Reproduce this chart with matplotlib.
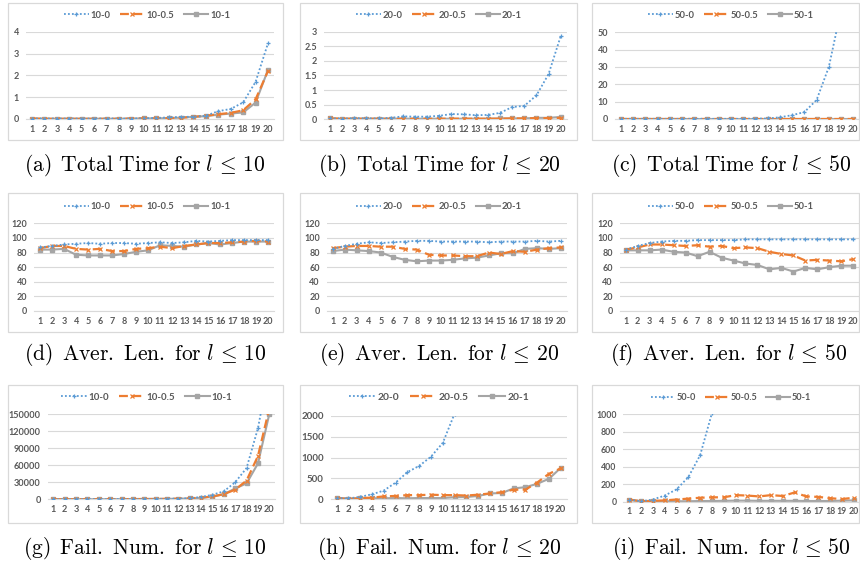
import numpy as np
import matplotlib
matplotlib.use("Agg")
import matplotlib.pyplot as plt
from matplotlib.patches import Rectangle

plt.rcParams['mathtext.fontset'] = 'cm'

# ---------------- data ----------------
x_cats = list(range(1, 21))

# (a) Total Time, l <= 10
tt10_0 = [0.02, 0.02, 0.02, 0.02, 0.02, 0.02, 0.02, 0.02, 0.02, 0.03, 0.05, 0.07, 0.10, 0.10, 0.15, 0.36, 0.46, 0.76, 1.70, 3.47]
tt10_05 = [0.02, 0.01, 0.01, 0.01, 0.01, 0.01, 0.01, 0.01, 0.02, 0.03, 0.03, 0.04, 0.06, 0.10, 0.15, 0.22, 0.28, 0.40, 0.90, 2.20]
tt10_1 = [0.02, 0.01, 0.01, 0.01, 0.01, 0.01, 0.01, 0.01, 0.02, 0.03, 0.03, 0.04, 0.06, 0.10, 0.13, 0.20, 0.25, 0.30, 0.75, 2.25]
# (b) Total Time, l <= 20
tt20_0 = [0.03, 0.02, 0.04, 0.03, 0.03, 0.05, 0.10, 0.09, 0.09, 0.12, 0.18, 0.17, 0.14, 0.15, 0.22, 0.42, 0.46, 0.82, 1.55, 2.85]
tt20_05 = [0.03, 0.02, 0.02, 0.02, 0.02, 0.02, 0.02, 0.02, 0.02, 0.02, 0.02, 0.02, 0.02, 0.02, 0.02, 0.03, 0.03, 0.04, 0.04, 0.05]
tt20_1 = [0.03, 0.02, 0.02, 0.02, 0.02, 0.02, 0.02, 0.02, 0.02, 0.02, 0.02, 0.02, 0.02, 0.02, 0.03, 0.03, 0.03, 0.05, 0.05, 0.08]
# (c) Total Time, l <= 50
tt50_0 = [0.1, 0.1, 0.1, 0.1, 0.1, 0.1, 0.1, 0.1, 0.1, 0.1, 0.1, 0.2, 0.3, 1.0, 2.2, 4.0, 11.0, 30.0, 63.0, 150.0]
tt50_05 = [0.1] * 20
tt50_1 = [0.1] * 20
# (d) Average length, l <= 10
al10_0 = [87, 89, 91, 92, 93, 92, 93, 93, 92, 93, 94, 93, 94, 96, 95, 96, 97, 97, 97, 97]
al10_05 = [86, 89, 89, 85, 84, 85, 82, 82, 85, 86, 88, 86, 89, 91, 93, 93, 94, 95, 96, 95]
al10_1 = [84, 84, 85, 77, 76, 76, 76, 78, 81, 83, 90, 89, 88, 91, 93, 91, 93, 95, 95, 95]
# (e) Average length, l <= 20
al20_0 = [85, 89, 92, 94, 93, 94, 95, 96, 96, 95, 95, 95, 95, 94, 95, 95, 95, 96, 95, 96]
al20_05 = [86, 88, 89, 89, 88, 88, 85, 84, 77, 76, 76, 75, 75, 80, 78, 82, 81, 84, 86, 87]
al20_1 = [82, 84, 83, 82, 80, 74, 70, 68, 69, 69, 70, 72, 73, 76, 79, 79, 85, 86, 85, 86]
# (f) Average length, l <= 50
al50_0 = [84, 89, 93, 95, 96, 96, 97, 97, 97, 97, 98, 98, 98, 98, 98, 98, 98, 98, 98, 98]
al50_05 = [84, 87, 91, 91, 90, 89, 90, 88, 89, 86, 87, 86, 81, 78, 76, 69, 70, 69, 68, 71]
al50_1 = [83, 83, 83, 84, 81, 80, 75, 81, 73, 69, 65, 63, 57, 59, 54, 59, 57, 60, 62, 62]
# (g) Failure number, l <= 10
fn10_0 = [100, 120, 150, 180, 220, 260, 320, 400, 500, 650, 800, 1100, 2000, 4000, 8000, 14000, 30000, 55000, 125000, 230000]
fn10_05 = [100, 120, 150, 180, 220, 260, 320, 400, 500, 600, 750, 1000, 1600, 3000, 5000, 9000, 17000, 33000, 76000, 160000]
fn10_1 = [100, 120, 150, 180, 220, 260, 320, 400, 500, 600, 750, 1000, 1500, 2500, 4500, 9000, 19000, 28000, 63000, 150000]
# (h) Failure number, l <= 20
fn20_0 = [30, 20, 60, 120, 210, 400, 650, 800, 1020, 1350, 2050, None, None, None, None, None, None, None, None, None]
fn20_05 = [30, 10, 30, 40, 70, 80, 100, 100, 110, 100, 100, 90, 110, 140, 170, 230, 230, 400, 610, 740]
fn20_1 = [30, 15, 20, 25, 25, 30, 25, 30, 30, 30, 50, 55, 80, 140, 150, 260, 290, 370, 490, 750]
# (i) Failure number, l <= 50
fn50_0 = [25, 5, 25, 70, 140, 280, 530, 1010, None, None, None, None, None, None, None, None, None, None, None, None]
fn50_05 = [25, 5, 10, 15, 25, 35, 45, 50, 50, 75, 70, 60, 75, 65, 105, 60, 55, 40, 30, 45]
fn50_1 = [20, 5, 5, 5, 5, 5, 8, 8, 10, 12, 12, 10, 10, 10, 10, 8, 8, 8, 12, 15]

yt_a = [0, 1, 2, 3, 4]
yt_b = [0, 0.5, 1, 1.5, 2, 2.5, 3]
yt_c = [0, 10, 20, 30, 40, 50]
yt_len = [0, 20, 40, 60, 80, 100, 120]
yt_g = [0, 30000, 60000, 90000, 120000, 150000]
yt_h = [0, 500, 1000, 1500, 2000]
yt_i = [0, 200, 400, 600, 800, 1000]

captions = [
    r"$\mathrm{(a)\ \,Total\ Time\ for\ }l \,\leq\, 10$",
    r"$\mathrm{(b)\ \,Total\ Time\ for\ }l \,\leq\, 20$",
    r"$\mathrm{(c)\ \,Total\ Time\ for\ }l \,\leq\, 50$",
    r"$\mathrm{(d)\ \,Aver.\ Len.\ for\ }l \,\leq\, 10$",
    r"$\mathrm{(e)\ \,Aver.\ Len.\ for\ }l \,\leq\, 20$",
    r"$\mathrm{(f)\ \,Aver.\ Len.\ for\ }l \,\leq\, 50$",
    r"$\mathrm{(g)\ \,Fail.\ Num.\ for\ }l \,\leq\, 10$",
    r"$\mathrm{(h)\ \,Fail.\ Num.\ for\ }l \,\leq\, 20$",
    r"$\mathrm{(i)\ \,Fail.\ Num.\ for\ }l \,\leq\, 50$",
]

# ---------------- style ----------------
W, H = 860, 564
BLUE, ORANGE, GRAY = '#5B9BD5', '#ED7D31', '#A5A5A5'
GRID = '#D9D9D9'
TXT = '#595959'
TICKFONT = 'Lato'

fig = plt.figure(figsize=(W / 100, H / 100), dpi=100)


def fx(px):
    return px / W


def fy(py):
    return 1 - py / H


def panel(rect, box, leg_xy, cap_xy, caption, prefix, s0, s05, s1, yticks, ylabels, fs=6.5, lfs=6.8):
    left, right, ytop, yzero = rect
    ax = fig.add_axes([fx(left), fy(yzero), fx(right - left), (yzero - ytop) / H])
    bl, bt, br, bb = box
    fig.patches.append(Rectangle((fx(bl), fy(bb)), fx(br - bl), (bb - bt) / H,
                                 transform=fig.transFigure, facecolor='none',
                                 edgecolor=GRID, lw=0.9))
    xs = np.array(x_cats)
    a0 = np.array([np.nan if v is None else v for v in s0], dtype=float)
    a05 = np.array([np.nan if v is None else v for v in s05], dtype=float)
    a1 = np.array([np.nan if v is None else v for v in s1], dtype=float)
    l0, = ax.plot(xs, a0, color=BLUE, ls=(0, (1, 1.2)), lw=1.3, marker='+', ms=3.5, mew=0.9,
                  label=f'{prefix}-0', zorder=4)
    l05, = ax.plot(xs, a05, color=ORANGE, ls=(0, (4, 2)), lw=1.6, marker='x', ms=3.0, mew=0.9,
                   label=f'{prefix}-0.5', zorder=3)
    l1, = ax.plot(xs, a1, color=GRAY, ls='-', lw=1.5, marker='s', ms=2.2,
                  label=f'{prefix}-1', zorder=2)
    ax.set_xlim(0.5, 20.5)
    ax.set_ylim(yticks[0], yticks[-1])
    ax.set_xticks(xs)
    ax.set_xticklabels([str(v) for v in x_cats], fontsize=fs, color=TXT,
                       fontfamily=TICKFONT, fontweight='bold')
    ax.set_yticks(yticks)
    ax.set_yticklabels(ylabels, fontsize=fs, color=TXT, fontfamily=TICKFONT, fontweight='bold')
    ax.tick_params(axis='both', length=0)
    ax.tick_params(axis='x', pad=4)
    ax.tick_params(axis='y', pad=5)
    ax.grid(axis='y', color=GRID, lw=0.8)
    ax.set_axisbelow(True)
    for sp in ['left', 'right', 'top']:
        ax.spines[sp].set_visible(False)
    ax.spines['bottom'].set_color(GRID)
    ax.spines['bottom'].set_linewidth(0.8)
    ax.patch.set_alpha(0)
    leg = ax.legend(handles=[l0, l05, l1], loc='center', ncol=3, frameon=False,
                    bbox_to_anchor=(fx(leg_xy[0]), fy(leg_xy[1])),
                    bbox_transform=fig.transFigure, handlelength=2.6, handletextpad=0.2,
                    columnspacing=1.0, prop={'family': TICKFONT, 'weight': 'bold', 'size': lfs})
    for t in leg.get_texts():
        t.set_color(TXT)
    fig.text(fx(cap_xy[0]), fy(cap_xy[1]), caption, ha='center', va='center', fontsize=15.5)
    return ax


def fmt(v):
    return f'{v:g}'


# row 1
panel((25.8, 274.2, 31.7, 119.0), (8, 3, 283, 140), (147, 15), (145, 165), captions[0], '10',
      tt10_0, tt10_05, tt10_1, yt_a, [fmt(v) for v in yt_a])
panel((324.0, 566.8, 31.7, 119.3), (300, 3, 577, 140), (439, 15), (439, 165), captions[1], '20',
      tt20_0, tt20_05, tt20_1, yt_b, [fmt(v) for v in yt_b])
panel((614.9, 859.4, 32.3, 119.0), (592, 3, 859, 140), (731, 15), (731, 165), captions[2], '50',
      tt50_0, tt50_05, tt50_1, yt_c, [fmt(v) for v in yt_c])
# row 2
panel((34.0, 274.3, 223.3, 311.0), (8, 193, 283, 332), (147, 206.7), (145, 354), captions[3], '10',
      al10_0, al10_05, al10_1, yt_len, [fmt(v) for v in yt_len])
panel((326.7, 567.0, 223.3, 311.0), (300, 193, 577, 332), (439, 206.7), (439, 354), captions[4], '20',
      al20_0, al20_05, al20_1, yt_len, [fmt(v) for v in yt_len])
panel((619.7, 859.3, 223.3, 311.0), (592, 193, 859, 332), (731, 206.7), (729, 354), captions[5], '50',
      al50_0, al50_05, al50_1, yt_len, [fmt(v) for v in yt_len])
# row 3
panel((47.6, 275.0, 414.0, 499.3), (8, 385, 283, 523), (147, 397.3), (145, 548), captions[6], '10',
      fn10_0, fn10_05, fn10_1, yt_g, [fmt(v) for v in yt_g], fs=6.6, lfs=7.0)
panel((330.8, 566.6, 415.7, 499.3), (300, 385, 577, 523), (439, 397.3), (439, 548), captions[7], '20',
      fn20_0, fn20_05, fn20_1, yt_h, [fmt(v) for v in yt_h], fs=7.0, lfs=7.4)
panel((623.4, 859.5, 414.0, 501.7), (592, 385, 859, 523), (731, 397.3), (731, 548), captions[8], '50',
      fn50_0, fn50_05, fn50_1, yt_i, [fmt(v) for v in yt_i], fs=6.3, lfs=6.6)

fig.savefig('out.png', dpi=100, facecolor='white')
